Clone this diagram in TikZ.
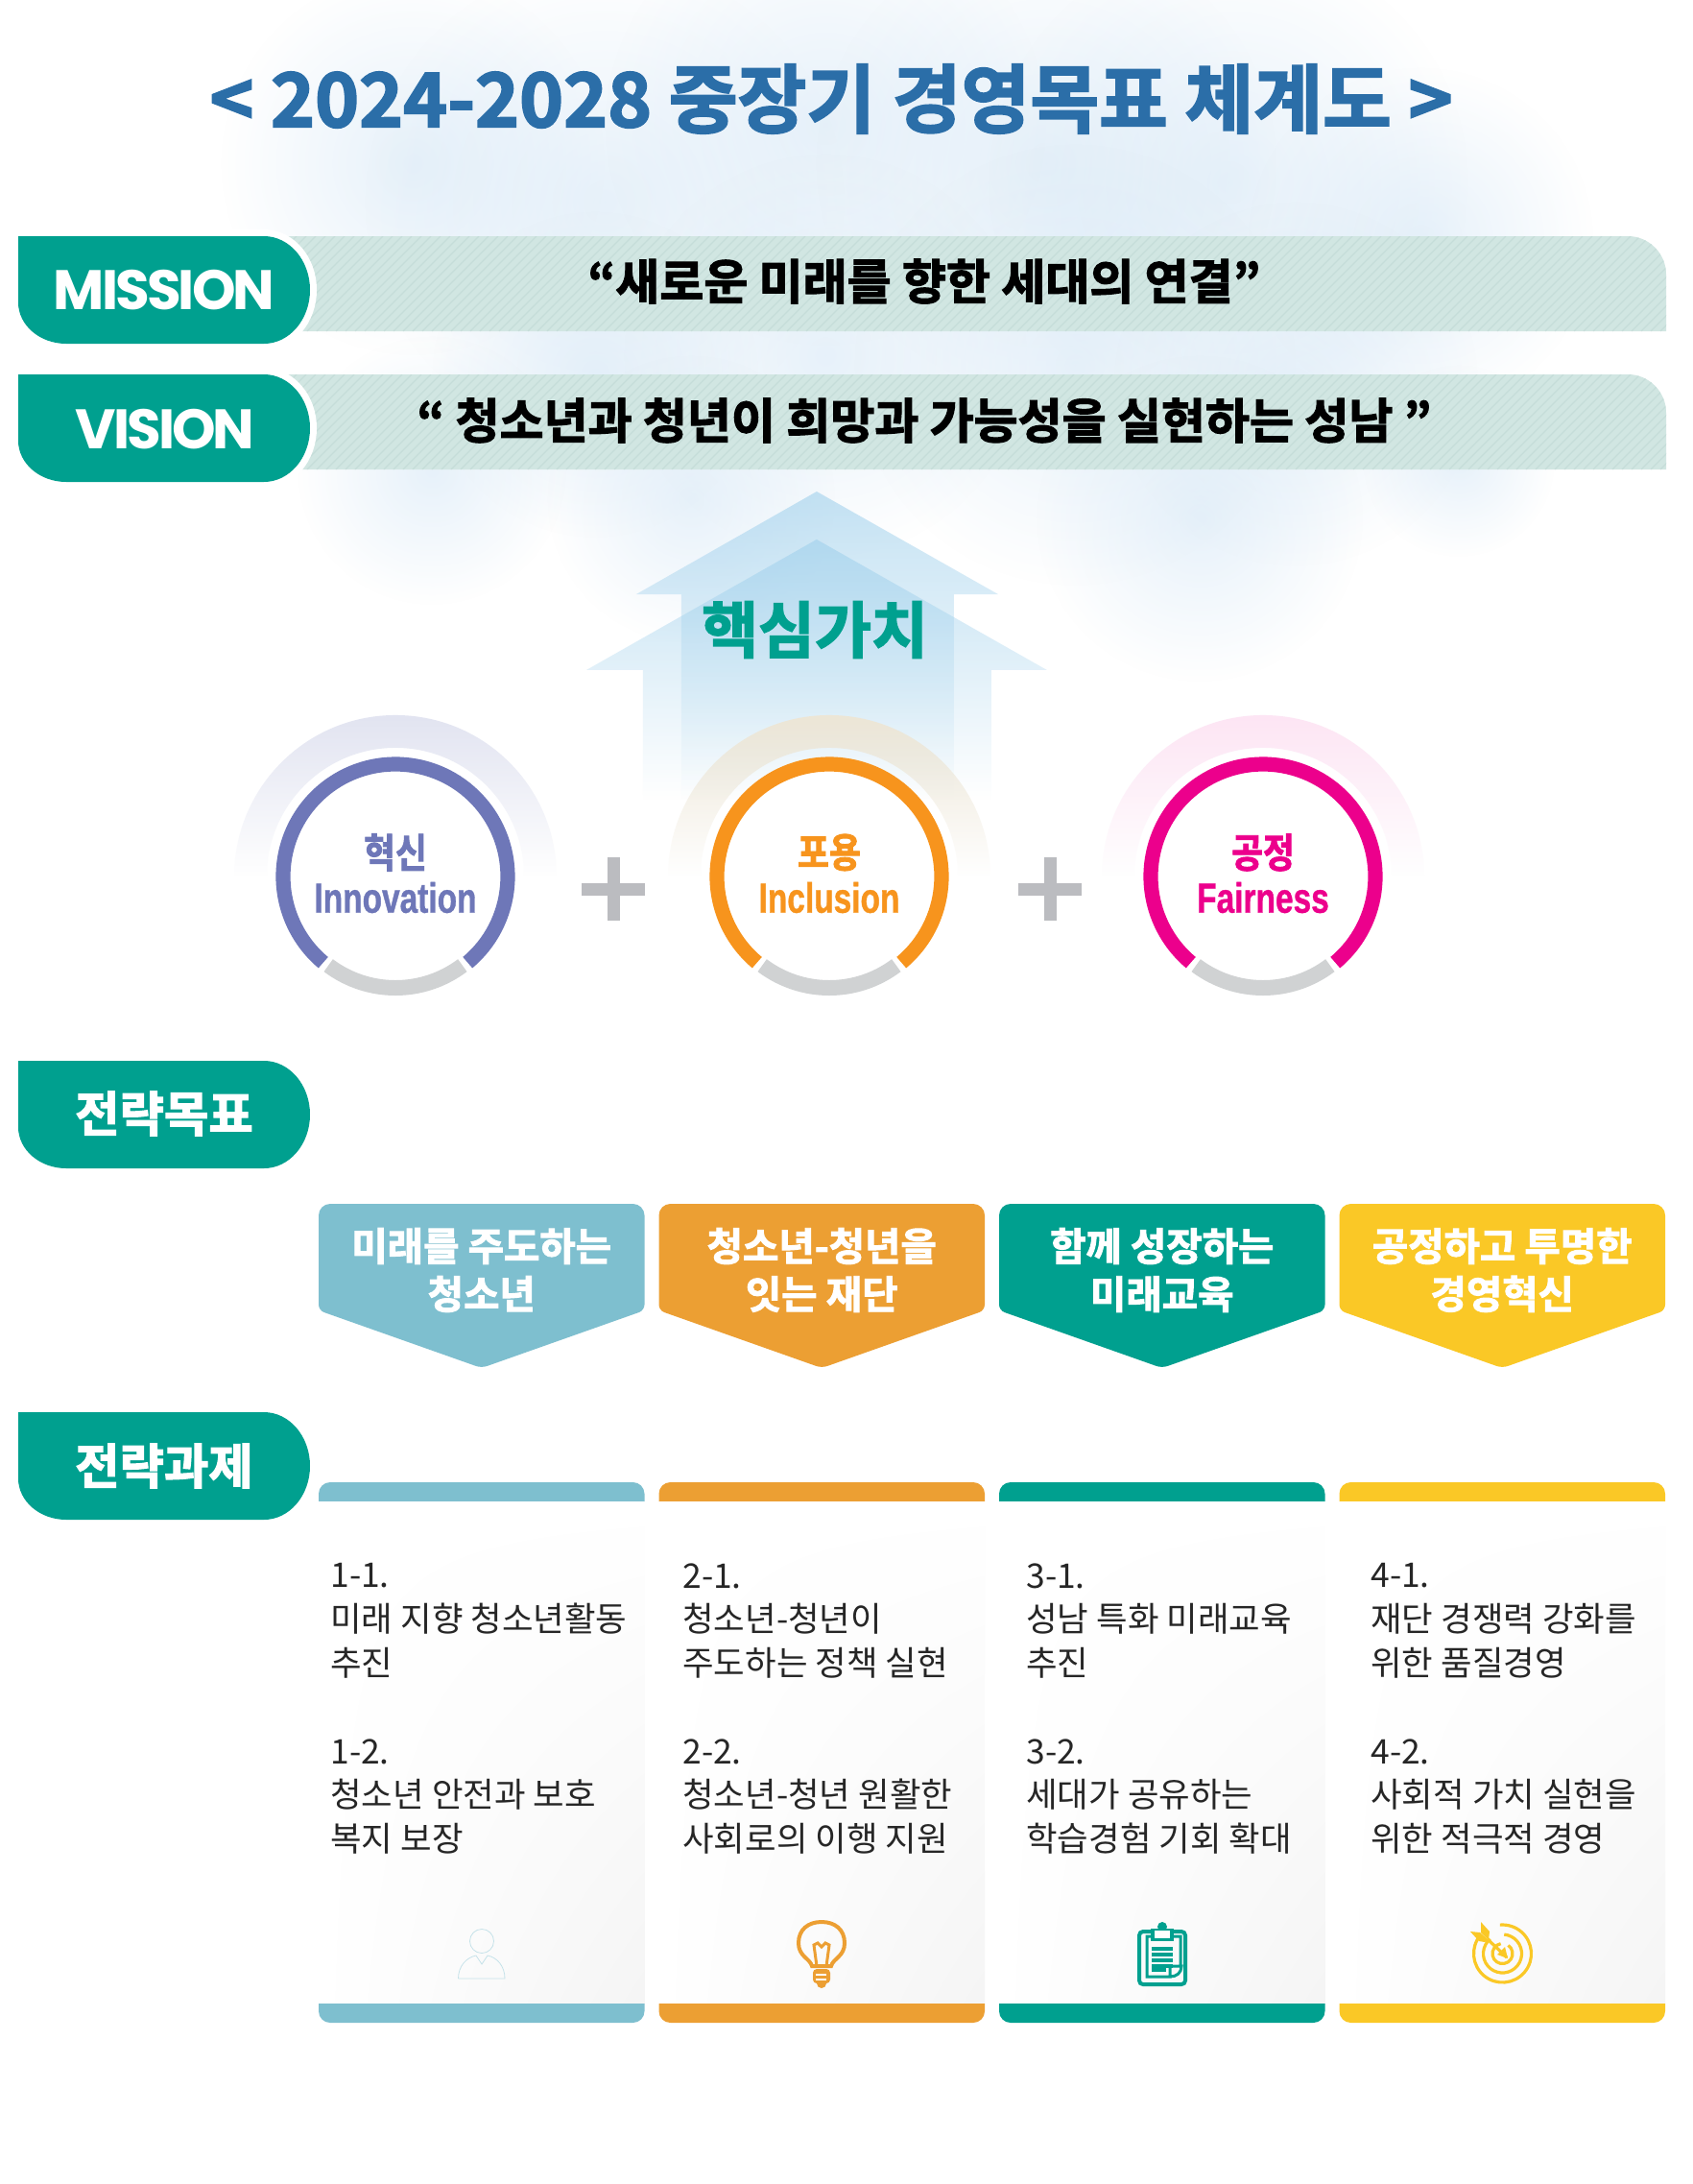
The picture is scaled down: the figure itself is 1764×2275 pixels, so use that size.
\documentclass[tikz,border=0pt]{standalone}
\usepackage{fontspec}
\usepackage{xcolor}
\usetikzlibrary{fadings,shadings,calc}
\setmainfont{Noto Sans CJK KR}
\newfontfamily\heavyfont[BoldFont={Noto Sans CJK KR Bold},BoldFeatures={FakeBold=2.4}]{Noto Sans CJK KR}
\newfontfamily\condfont[BoldFont={Noto Sans CJK KR Bold},BoldFeatures={FakeStretch=.85,FakeBold=2}]{Noto Sans CJK KR}
\newfontfamily\latinfont[BoldFeatures={FakeStretch=.76,FakeBold=.8}]{Liberation Sans}
\newfontfamily\tabfont[LetterSpace=-5]{Poppins}
\definecolor{teal}{HTML}{00A08F}
\definecolor{skyteal}{HTML}{7EBFCF}
\definecolor{amber}{HTML}{EC9F33}
\definecolor{sun}{HTML}{FAC826}
\definecolor{titleblue}{HTML}{2B6EA8}
\definecolor{bandbase}{HTML}{D1E6E2}
\definecolor{bandline}{HTML}{C5DDD9}
\definecolor{cloudblue}{HTML}{D3E6F6}
\definecolor{arrowblue}{HTML}{9FD0EC}
\definecolor{violet}{HTML}{6E77B8}
\definecolor{tangerine}{HTML}{F7941D}
\definecolor{magenta}{HTML}{EC008C}
\definecolor{ringgrey}{HTML}{D0D2D3}
\definecolor{plusgrey}{HTML}{BBBCC0}
\definecolor{halotan}{HTML}{EDE6D6}
\tikzfading[name=cloudfade,inner color=transparent!45,outer color=transparent!100]
\tikzfading[name=arrowfade,top color=transparent!0,bottom color=transparent!100]
\tikzfading[name=halofade,top color=transparent!0,bottom color=transparent!100]
\begin{document}
\begin{tikzpicture}[x=.5pt,y=.5pt]
  \tikzstyle{tabtext}=[text=white,font=\heavyfont\bfseries\fontsize{25.2}{28}\selectfont,inner sep=0pt]
  \tikzstyle{tablatin}=[text=white,font=\tabfont\bfseries\fontsize{29}{32}\selectfont,inner sep=0pt]
  \tikzstyle{bandtext}=[text=black,font=\heavyfont\bfseries\fontsize{25}{28}\selectfont,inner sep=0pt]
  \tikzstyle{goaltext}=[text=white,align=center,font=\heavyfont\bfseries\fontsize{20.3}{25}\selectfont,inner sep=0pt]
  \tikzstyle{tasktext}=[anchor=north west,align=left,text=black!85,font=\fontsize{17.7}{22.85}\selectfont,inner sep=0pt]
  \tikzstyle{corekor}=[font=\condfont\bfseries\fontsize{21}{24}\selectfont,inner sep=0pt]
  \tikzstyle{coreeng}=[font=\latinfont\bfseries\fontsize{22}{25}\selectfont,inner sep=0pt]
  \useasboundingbox (0,0) rectangle (1764,-2275);
  \fill[white] (0,0) rectangle (1764,-2275);
  % clouds
  \foreach \cx/\cy/\cr in {430/-170/200,630/-210/250,860/-130/230,1090/-170/240,1280/-190/250,1480/-250/180,
    620/-390/170,860/-370/210,1120/-380/230,1350/-400/190,450/-490/140,720/-520/150,1250/-540/170,1520/-480/100}
    \fill[cloudblue,path fading=cloudfade] (\cx,\cy) circle (\cr);
  \node[text=titleblue,font=\heavyfont\bfseries\fontsize{39}{42}\selectfont,inner sep=0pt] (title) at (866,-103) {< 2024-2028 중장기 경영목표 체계도 >};
  % bands
  \foreach \by/\bname in {-246/mission,-390/vision}{
    \fill[bandbase] (250,\by) -- (1696,\by) arc[start angle=90,end angle=0,radius=40] -- (1736,\by-99) -- (250,\by-99) -- cycle;
    \begin{scope}
      \clip (250,\by) -- (1696,\by) arc[start angle=90,end angle=0,radius=40] -- (1736,\by-99) -- (250,\by-99) -- cycle;
      \foreach \sx in {150,160,...,1740}
        \draw[bandline,line width=.6pt] (\sx,\by-99) -- (\sx+99,\by);
    \end{scope}
  }
  \node[bandtext] (missiontext) at (963,-293) {“새로운 미래를 향한 세대의 연결”};
  \node[bandtext] (visiontext) at (963,-438) {“ 청소년과 청년이 희망과 가능성을 실현하는 성남 ”};
  % tabs
  \foreach \ty in {-246,-390,-1105,-1471}
    \fill[teal,preaction={draw=white,line width=7pt}] (19,\ty) -- (275,\ty) arc[start angle=90,end angle=-90,x radius=48,y radius=56] -- (69,\ty-112) arc[start angle=270,end angle=180,x radius=50,y radius=43] -- cycle;
  \node[tablatin] (mission) at (171,-302) {MISSION};
  \node[tablatin] (vision) at (172,-447) {VISION};
  \node[tabtext] (goals) at (171,-1160) {전략목표};
  \node[tabtext] (tasks) at (171,-1527) {전략과제};
  % core value arrows
  \fill[arrowblue,opacity=.6,path fading=arrowfade] (851,-512) -- (1040,-619) -- (994,-619) -- (994,-833) -- (710,-833) -- (710,-619) -- (663,-619) -- cycle;
  \fill[arrowblue,opacity=.6,path fading=arrowfade] (851,-562) -- (1091,-698) -- (1033,-698) -- (1033,-833) -- (670,-833) -- (670,-698) -- (611,-698) -- cycle;
  \node[text=teal,font=\heavyfont\bfseries\fontsize{32}{35}\selectfont,inner sep=0pt] (core) at (849,-656) {핵심가치};
  % value rings
  \foreach \cx/\ringcol/\halocol/\nm/\kor/\eng in {412/violet/violet!20/innov/혁신/Innovation,864/tangerine/halotan/incl/포용/Inclusion,1316/magenta/magenta!10/fair/공정/Fairness}{
    \fill[\halocol,path fading=halofade,even odd rule] ([shift={(\cx,-913)}]0:168) arc[start angle=0,end angle=180,radius=168] -- ([shift={(\cx,-913)}]180:134) arc[start angle=180,end angle=0,radius=134] -- cycle;
    \fill[white] (\cx,-913) circle (110);
    \draw[\ringcol,line width=7.6pt] ([shift={(\cx,-913)}]-50:117) arc[start angle=-50,end angle=230,radius=117];
    \draw[ringgrey,line width=8pt] ([shift={(\cx,-913)}]-127:116) arc[start angle=-127,end angle=-53,radius=116];
    \node[corekor,text=\ringcol] (\nm kor) at (\cx,-888) {\kor};
    \node[coreeng,text=\ringcol] (\nm eng) at (\cx,-935) {\eng};
  }
  \foreach \px in {639,1094}{
    \fill[plusgrey] (\px-33,-920) rectangle (\px+33,-933);
    \fill[plusgrey] (\px-6.5,-893) rectangle (\px+6.5,-959);
  }
  % columns
  \foreach \colx/\colc/\nm/\goal in {332/skyteal/one/{미래를 주도하는\\청소년},686.5/amber/two/{청소년-청년을\\잇는 재단},1041/teal/three/{함께 성장하는\\미래교육},1395.5/sun/four/{공정하고 투명한\\경영혁신}}{
    \fill[\colc,rounded corners=6pt] (\colx,-1310) -- (\colx,-1254) -- (\colx+339.5,-1254) -- (\colx+339.5,-1310) [rounded corners=3pt] -- (\colx+339.5,-1365) -- (\colx+169.75,-1425) -- (\colx,-1365) -- cycle;
    \node[goaltext] (\nm goal) at (\colx+169.75,-1323) {\goal};
    \fill[\colc] (\colx,-1564) [rounded corners=6pt] -- (\colx,-1544) -- (\colx+339.5,-1544) [sharp corners] -- (\colx+339.5,-1564) -- cycle;
    \shade[upper left=white,upper right=white,lower left=white,lower right=black!4] (\colx,-1564) rectangle (\colx+339.5,-2087);
    \fill[\colc] (\colx,-2087) [rounded corners=6pt] -- (\colx,-2107) -- (\colx+339.5,-2107) [sharp corners] -- (\colx+339.5,-2087) -- cycle;
  }
  \node[tasktext] (taskoneA) at (344,-1628) {1-1.\\미래 지향 청소년활동\\추진};
  \node[tasktext] (taskoneB) at (344,-1811) {1-2.\\청소년 안전과 보호\\복지 보장};
  \node[tasktext] (tasktwoA) at (711,-1628) {2-1.\\청소년-청년이\\주도하는 정책 실현};
  \node[tasktext] (tasktwoB) at (711,-1811) {2-2.\\청소년-청년 원활한\\사회로의 이행 지원};
  \node[tasktext] (taskthreeA) at (1069,-1628) {3-1.\\성남 특화 미래교육\\추진};
  \node[tasktext] (taskthreeB) at (1069,-1811) {3-2.\\세대가 공유하는\\학습경험 기회 확대};
  \node[tasktext] (taskfourA) at (1428,-1628) {4-1.\\재단 경쟁력 강화를\\위한 품질경영};
  \node[tasktext] (taskfourB) at (1428,-1811) {4-2.\\사회적 가치 실현을\\위한 적극적 경영};
  % icons
  \draw[skyteal!45,line width=.4pt] (502,-2022) circle (12.5);
  \draw[skyteal!45,line width=.4pt] (477.5,-2061) -- (526,-2061) .. controls (526,-2048) and (518,-2039) .. (508,-2037) -- (502,-2046) -- (496,-2037) .. controls (486,-2039) and (477.5,-2048) .. (477.5,-2061);
  \draw[amber,line width=2pt] (846,-2048) .. controls (844,-2040) and (832,-2038) .. (832,-2024) .. controls (832,-2010) and (842,-2002) .. (856,-2002) .. controls (870,-2002) and (880,-2010) .. (880,-2024) .. controls (880,-2038) and (868,-2040) .. (866,-2048) -- cycle;
  \draw[amber,line width=1.5pt] (851,-2048) -- (848,-2026) -- (852,-2024) -- (856,-2028) -- (860,-2024) -- (864,-2026) -- (861,-2048);
  \fill[amber,rounded corners=2pt] (847,-2051) rectangle (865,-2066);
  \fill[amber] (856,-2066) circle (5);
  \fill[white] (850,-2056) rectangle (861,-2058);
  \fill[white] (850,-2061) rectangle (861,-2063);
  \draw[teal,line width=2pt,rounded corners=2pt] (1187,-2012) rectangle (1235,-2067);
  \draw[teal,line width=1.5pt] (1230,-2047) -- (1230,-2017) -- (1195,-2017) -- (1195,-2059) -- (1219,-2059) -- (1219,-2048) -- (1231,-2048) .. controls (1231,-2055) and (1226,-2059) .. (1219,-2059);
  \fill[teal] (1199,-2009) rectangle (1223,-2022);
  \fill[teal] (1211,-2007) circle (5);
  \fill[white] (1203,-2011) rectangle (1219,-2019);
  \foreach \ly in {2028,2034,2040,2046}
    \fill[teal] (1200,-\ly) rectangle (1222,-\ly-4);
  \fill[teal] (1200,-2050) rectangle (1215,-2054);
  \foreach \rr/\ra in {30/140,20/130,10.5/100}
    \draw[sun,line width=1.6pt] ([shift={(1565.5,-2035)}]\ra:\rr) arc[start angle=\ra,end angle=\ra+315,radius=\rr];
  \draw[sun,line width=1.6pt] (1570,-2039) -- (1550,-2020);
  \fill[sun] (1571,-2040) -- (1560,-2036) -- (1568,-2028) -- cycle;
  \fill[sun] (1551,-2021) -- (1542,-2013) -- (1532,-2012) -- (1541,-2022) -- (1547,-2023) -- cycle;
  \fill[sun] (1551,-2021) -- (1543,-2013) -- (1543,-2002) -- (1552,-2012) -- cycle;
\end{tikzpicture}
\end{document}
